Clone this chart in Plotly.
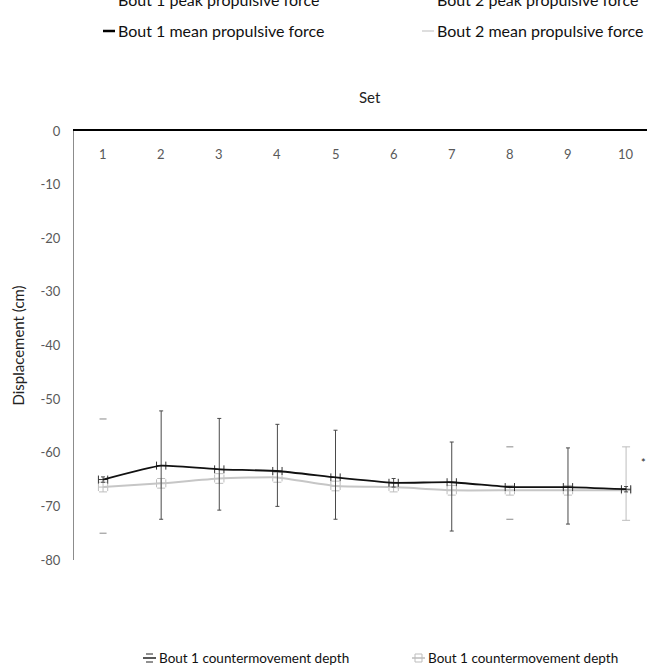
import plotly.graph_objects as go

# ---- data ----
sets = [1, 2, 3, 4, 5, 6, 7, 8, 9, 10]
set_labels = ["1", "2", "3", "4", "5", "6", "7", "8", "9", "10"]

bout1_depth = [-65.0, -62.4, -63.1, -63.4, -64.6, -65.6, -65.5, -66.4, -66.4, -66.8]
bout1_err_up = [0.5, 10.2, 9.5, 8.7, 8.8, 0.8, 7.5, 0.0, 7.3, 0.5]
bout1_err_down = [0.5, 10.0, 7.6, 6.6, 7.8, 0.8, 9.1, 0.0, 6.9, 0.5]

bout2_depth = [-66.4, -65.7, -64.8, -64.6, -66.2, -66.4, -67.0, -67.0, -67.0, -67.0]
bout2_err_up = [0.9, 0.9, 0.9, 0.9, 0.9, 0.9, 0.9, 0.9, 0.9, 8.1]
bout2_err_down = [0.9, 0.9, 0.9, 0.9, 0.9, 0.9, 0.9, 0.9, 0.9, 5.6]

# detached error caps
cap_x = [1, 1, 8, 8]
cap_y = [-53.7, -75.0, -58.9, -72.4]

y_ticks = [0, -10, -20, -30, -40, -50, -60, -70, -80]
y_tick_labels = ["0", "-10", "-20", "-30", "-40", "-50", "-60", "-70", "-80"]

FONT = "Lato"
W, H = 647, 671
ML, MR, MT, MB = 74, 0, 131, 111
PW = W - ML - MR
PH = H - MT - MB


def px(xp):
    return (xp - ML) / PW


def py(yp):
    return (H - MB - yp) / PH


fig = go.Figure()

fig.add_trace(go.Scatter(
    x=sets, y=bout2_depth, mode="lines",
    name="Bout 1 countermovement depth",
    line=dict(color="#c6c6c6", width=2, shape="spline", smoothing=0.4),
    error_y=dict(type="data", symmetric=False, array=bout2_err_up,
                 arrayminus=bout2_err_down, color="#bdbdbd", thickness=1, width=4),
    error_x=dict(type="data", array=[0.08] * 10, color="#bdbdbd", thickness=1, width=4),
    showlegend=False,
))

fig.add_trace(go.Scatter(
    x=sets, y=bout1_depth, mode="lines",
    name="Bout 1 countermovement depth",
    line=dict(color="#111111", width=1.8, shape="spline", smoothing=0.4),
    error_y=dict(type="data", symmetric=False, array=bout1_err_up,
                 arrayminus=bout1_err_down, color="#4a4a4a", thickness=1, width=2),
    error_x=dict(type="data", array=[0.08] * 10, color="#333333", thickness=1, width=4),
    showlegend=False,
))

fig.add_trace(go.Scatter(
    x=cap_x, y=cap_y, mode="markers",
    marker=dict(symbol="line-ew-open", size=5, color="#8a8a8a", line=dict(width=1, color="#8a8a8a")),
    showlegend=False, hoverinfo="skip",
))

# x tick labels drawn just below the top axis line
for xv, lab in zip(sets, set_labels):
    fig.add_annotation(text=lab, xref="x", yref="paper", x=xv, y=py(154),
                       xanchor="center", yanchor="middle", showarrow=False,
                       font=dict(family=FONT, size=13, color="#595959"))

# top (cropped) legend of another panel
top_items = [
    ("Bout 1 peak propulsive force", 116, -1, "#000000", 1.2),
    ("Bout 2 peak propulsive force", 435, -1, "#c8c8c8", 1.2),
    ("Bout 1 mean propulsive force", 116, 31, "#000000", 2.5),
    ("Bout 2 mean propulsive force", 435, 31, "#c8c8c8", 1.2),
]
for text, xs, yc, col, lw in top_items:
    fig.add_annotation(text=text, xref="paper", yref="paper", x=px(xs), y=py(yc),
                       xanchor="left", yanchor="middle", showarrow=False,
                       font=dict(family=FONT, size=16, color="#111111"))
    fig.add_shape(type="line", xref="paper", yref="paper",
                  x0=px(xs - 13), x1=px(xs - 1), y0=py(yc), y1=py(yc),
                  line=dict(color=col, width=lw))

# bottom legend (for the two plotted series)
LEG_Y = 658
bottom_items = [("Bout 1 countermovement depth", 157, "#222222", "caps"),
                ("Bout 1 countermovement depth", 426, "#bdbdbd", "box")]
for text, xs, col, kind in bottom_items:
    fig.add_annotation(text=text, xref="paper", yref="paper", x=px(xs), y=py(LEG_Y),
                       xanchor="left", yanchor="middle", showarrow=False,
                       font=dict(family=FONT, size=13.5, color="#111111"))
    fig.add_shape(type="line", xref="paper", yref="paper",
                  x0=px(xs - 14), x1=px(xs - 1), y0=py(LEG_Y), y1=py(LEG_Y),
                  line=dict(color=col, width=1.5))
    if kind == "caps":
        for dy in (-4, 4):
            fig.add_shape(type="line", xref="paper", yref="paper",
                          x0=px(xs - 11), x1=px(xs - 4), y0=py(LEG_Y + dy), y1=py(LEG_Y + dy),
                          line=dict(color=col, width=1))
    else:
        fig.add_shape(type="rect", xref="paper", yref="paper",
                      x0=px(xs - 11), x1=px(xs - 4), y0=py(LEG_Y + 4), y1=py(LEG_Y - 4),
                      line=dict(color=col, width=1))

fig.add_annotation(text="*", xref="paper", yref="paper", x=px(643), y=py(462),
                   xanchor="center", yanchor="middle", showarrow=False,
                   font=dict(family=FONT, size=11, color="#222222"))

fig.add_annotation(text="Set", xref="paper", yref="paper", x=px(370), y=py(97),
                   xanchor="center", yanchor="middle", showarrow=False,
                   font=dict(family=FONT, size=15, color="#222222"))

fig.update_layout(
    width=W, height=H,
    margin=dict(l=ML, r=MR, t=MT, b=MB),
    paper_bgcolor="white", plot_bgcolor="white",
    font=dict(family=FONT, color="#595959"),
    showlegend=False,
    xaxis=dict(
        range=[0.5, 10.36], side="top", showticklabels=False, ticks="",
        showgrid=False, zeroline=False,
        showline=True, linecolor="#000000", linewidth=1.5, automargin=False,
    ),
    yaxis=dict(
        range=[-80, 0], tickmode="array", tickvals=y_ticks, ticktext=y_tick_labels,
        ticks="", showgrid=False, automargin=False,
        zeroline=False, showline=True, linecolor="#8c8c8c", linewidth=1,
        tickfont=dict(family=FONT, size=13, color="#595959"), ticklabelstandoff=10,
        title=dict(text="Displacement (cm)", font=dict(family=FONT, size=15, color="#222222"),
                   standoff=12),
    ),
)

fig.write_html("out.html", config={"displayModeBar": False},
               post_script="document.body.style.margin='0px';document.body.style.overflow='hidden';")
